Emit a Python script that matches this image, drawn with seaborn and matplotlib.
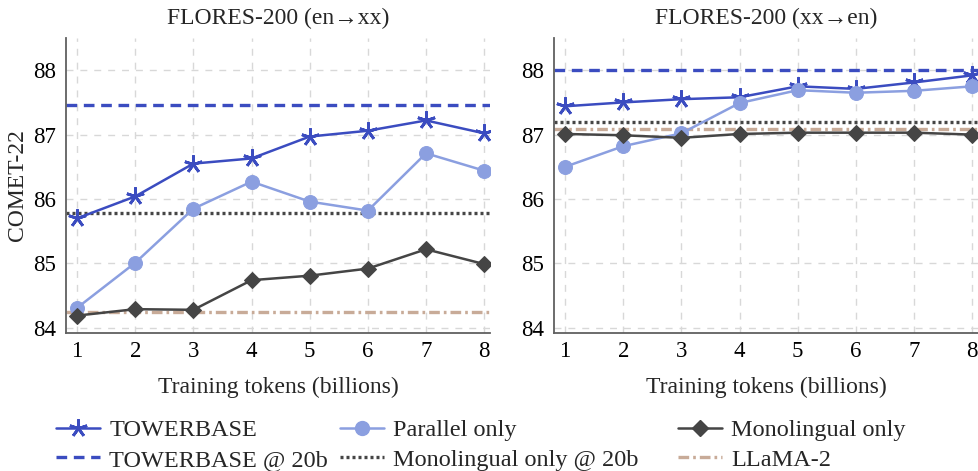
import matplotlib
matplotlib.use("Agg")
import matplotlib.pyplot as plt
import seaborn as sns
import pandas as pd
from matplotlib.lines import Line2D

# ---------------- data ----------------
tokens = [1, 2, 3, 4, 5, 6, 7, 8]
xticks = [1, 2, 3, 4, 5, 6, 7, 8]
yticks = [84, 85, 86, 87, 88]

tower_enxx = [85.70, 86.04, 86.55, 86.63, 86.97, 87.06, 87.22, 87.02]
parallel_enxx = [84.31, 85.01, 85.85, 86.27, 85.96, 85.82, 86.71, 86.44]
mono_enxx = [84.19, 84.29, 84.28, 84.74, 84.81, 84.92, 85.22, 84.99]
tower20b_enxx = 87.46
mono20b_enxx = 85.78
llama_enxx = 84.24

tower_xxen = [87.44, 87.50, 87.55, 87.58, 87.75, 87.71, 87.81, 87.92]
parallel_xxen = [86.50, 86.82, 87.02, 87.49, 87.69, 87.65, 87.68, 87.75]
mono_xxen = [87.01, 86.99, 86.95, 87.01, 87.03, 87.03, 87.03, 87.00]
tower20b_xxen = 88.01
mono20b_xxen = 87.20
llama_xxen = 87.09

titles = ["FLORES-200 (en\u2192xx)", "FLORES-200 (xx\u2192en)"]
ylabel = "COMET-22"
xlabel = "Training tokens (billions)"
labels = ["TOWERBASE", "Parallel only", "Monolingual only",
          "TOWERBASE @ 20b", "Monolingual only @ 20b", "LLaMA-2"]

# ---------------- style ----------------
sns.set_theme(style="white")
plt.rcParams["font.family"] = ["Liberation Serif", "DejaVu Serif"]

C_TOWER = "#3b4cc0"
C_PAR = "#8b9fe0"
C_MONO = "#454545"
C_LLAMA = "#c8ab98"
FS_TICK = 16.5
FS_LAB = 17
FS_LEG = 17.5

star = (5, 2, 0)
tower_kw = dict(color=C_TOWER, lw=1.8, marker=star, markersize=13, mew=2.0, mec=C_TOWER)
par_kw = dict(color=C_PAR, lw=1.8, marker="o", markersize=10, mec=C_PAR)
mono_kw = dict(color=C_MONO, lw=1.8, marker="D", markersize=8, mec=C_MONO)
t20_kw = dict(color=C_TOWER, lw=2.4, ls=(0, (3.2, 2.0)))
m20_kw = dict(color=C_MONO, lw=2.4, ls=(0, (0.9, 0.9)))
ll_kw = dict(color=C_LLAMA, lw=2.4, ls=(0, (3.2, 1.2, 0.8, 1.2)))

fig = plt.figure(figsize=(9.79, 4.71), dpi=100)
W, H = 979, 471
ax_l = fig.add_axes([66 / W, 1 - 333 / H, 424 / W, 295 / H])
ax_r = fig.add_axes([554 / W, 1 - 333 / H, 424 / W, 295 / H])

panels = [
    (ax_l, tower_enxx, parallel_enxx, mono_enxx, tower20b_enxx, mono20b_enxx, llama_enxx, titles[0]),
    (ax_r, tower_xxen, parallel_xxen, mono_xxen, tower20b_xxen, mono20b_xxen, llama_xxen, titles[1]),
]

for ax, tw, pa, mo, t20, m20, ll, title in panels:
    ax.axhline(ll, zorder=2, **ll_kw)
    ax.axhline(m20, zorder=2, **m20_kw)
    ax.axhline(t20, zorder=2, **t20_kw)
    sns.lineplot(x=tokens, y=tw, ax=ax, zorder=3, **tower_kw)
    sns.lineplot(x=tokens, y=pa, ax=ax, zorder=4, **par_kw)
    sns.lineplot(x=tokens, y=mo, ax=ax, zorder=5, **mono_kw)

    ax.set_xlim(0.81, 8.10)
    ax.set_ylim(83.92, 88.5)
    ax.set_xticks(xticks)
    ax.set_yticks(yticks)
    ax.grid(True, color="#d8d8d8", lw=1.0, ls=(0, (5, 5)))
    ax.set_axisbelow(True)
    for s in ["top", "right"]:
        ax.spines[s].set_visible(False)
    for s in ["left", "bottom"]:
        ax.spines[s].set_color("#606060")
        ax.spines[s].set_linewidth(1.3)
    ax.tick_params(axis="both", direction="in", length=4, width=1.0,
                   color="#606060", labelsize=FS_TICK, labelcolor="black")
    ax.tick_params(axis="y", pad=7)
    ax.tick_params(axis="x", pad=6)
    ax.set_title(title, fontsize=FS_LAB, pad=10)
    ax.set_xlabel(xlabel, fontsize=FS_LAB)
    ax.xaxis.set_label_coords(0.5, -0.15)
    ax.set_ylabel("")

ax_l.set_ylabel(ylabel, fontsize=FS_LAB)
ax_l.yaxis.set_label_coords(-0.09, 0.5)

h_tower = Line2D([], [], **tower_kw)
h_par = Line2D([], [], **par_kw)
h_mono = Line2D([], [], **mono_kw)
h_t20 = Line2D([], [], **t20_kw)
h_m20 = Line2D([], [], **m20_kw)
h_ll = Line2D([], [], **ll_kw)

cols = [
    ([h_tower, h_t20], [labels[0], labels[3]], 56),
    ([h_par, h_m20], [labels[1], labels[4]], 340),
    ([h_mono, h_ll], [labels[2], labels[5]], 678),
]
for hs, ls_, xpx in cols:
    fig.legend(hs, ls_, loc="center left", bbox_to_anchor=(xpx / W, 1 - 445 / H),
               frameon=False, fontsize=FS_LEG, handlelength=1.8, handletextpad=0.4,
               borderpad=0, borderaxespad=0, labelspacing=0.3)

fig.savefig("out.png", dpi=100)
